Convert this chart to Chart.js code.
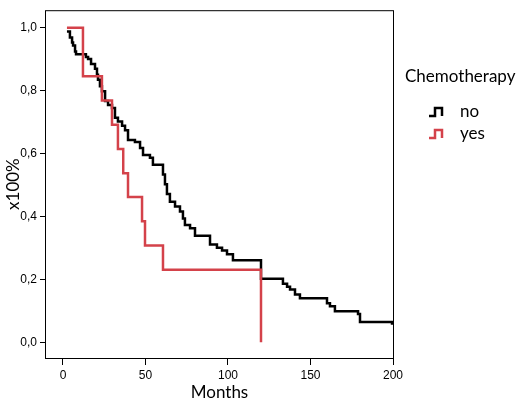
<!DOCTYPE html>
<html>
<head>
<meta charset="utf-8">
<script src="https://cdn.jsdelivr.net/npm/chart.js@4.4.0/dist/chart.umd.min.js"></script>
<style>
  html, body { margin: 0; padding: 0; background: #fff; }
</style>
</head>
<body>
<canvas id="mycanvas" width="520" height="403"></canvas>
<script>
// Kaplan-Meier steps: time of each event (months) and survival after it
var noMonths = [2.4, 4.2, 5.5, 6.1, 7.3, 7.9, 13.9, 15.2, 17.0, 19.4, 20.6, 21.2, 22.4, 23.6, 25.5,
  27.3, 29.7, 31.5, 33.3, 35.8, 37.6, 39.4, 43.6, 46.7, 48.5, 52.7, 54.5, 60.6, 61.8, 63.0,
  64.8, 67.9, 70.9, 72.7, 73.9, 77.0, 80.0, 89.1, 93.3, 96.4, 99.4, 103.0, 120.0, 133.3, 135.8,
  137.6, 140.6, 143.6, 160.0, 161.8, 164.8, 178.8, 180.0, 199.4];
var noSurv = [0.988, 0.969, 0.953, 0.944, 0.925, 0.916, 0.907, 0.901, 0.885, 0.870, 0.851, 0.835, 0.814, 0.798, 0.767,
  0.755, 0.745, 0.714, 0.702, 0.689, 0.674, 0.643, 0.637, 0.618, 0.596, 0.587, 0.565, 0.534, 0.503, 0.472,
  0.447, 0.432, 0.416, 0.394, 0.373, 0.363, 0.339, 0.311, 0.301, 0.292, 0.280, 0.261, 0.202, 0.186, 0.177,
  0.168, 0.152, 0.140, 0.124, 0.115, 0.099, 0.090, 0.065, 0.056];

var yesMonths = [2.4, 12.1, 23.6, 29.7, 33.3, 36.5, 39.4, 47.9, 49.7, 60.6, 120.0];
var yesSurv = [1.0, 0.846, 0.769, 0.692, 0.615, 0.538, 0.462, 0.385, 0.308, 0.231, 0.0];

var xTicks = [0, 50, 100, 150, 200];
var yTicks = [0, 0.2, 0.4, 0.6, 0.8, 1.0];
var legendTitle = 'Chemotherapy';

function toPoints(xs, ys) {
  var pts = [];
  for (var i in xs) {
    pts.push({ x: xs[i], y: ys[i] });
  }
  return pts;
}

var boxAndLegend = {
  id: 'boxAndLegend',
  afterDraw: function(chart) {
    var ctx = chart.ctx;
    var a = chart.chartArea;
    ctx.save();
    ctx.strokeStyle = '#000';
    ctx.lineWidth = 1;
    ctx.strokeRect(a.left - 0.5, a.top + 0.5, a.right - a.left + 1, a.bottom - a.top);

    ctx.fillStyle = '#000';
    ctx.textBaseline = 'middle';
    ctx.textAlign = 'left';
    ctx.font = '17px Lato';
    ctx.fillText(legendTitle, 405, 77);
    chart.data.datasets.forEach(function(ds, i) {
      var y = 112 + i * 22;
      ctx.strokeStyle = ds.borderColor;
      ctx.lineWidth = 2.5;
      ctx.beginPath();
      ctx.moveTo(429, y + 4);
      ctx.lineTo(435, y + 4);
      ctx.lineTo(435, y - 4);
      ctx.lineTo(442, y - 4);
      ctx.lineTo(442, y + 4);
      ctx.stroke();
      ctx.fillText(ds.label, 460, y);
    });
    ctx.restore();
  }
};

var ctx = document.getElementById('mycanvas');

var kmChart = new Chart(ctx, {
  type: 'line',
  data: {
    datasets: [
      {
        label: 'no',
        data: toPoints(noMonths, noSurv),
        borderColor: '#000000',
        borderWidth: 2.5,
        stepped: 'before',
        pointRadius: 0,
        fill: false,
        order: 2
      },
      {
        label: 'yes',
        data: toPoints(yesMonths, yesSurv),
        borderColor: '#d4424a',
        borderWidth: 2.5,
        stepped: 'before',
        pointRadius: 0,
        fill: false,
        order: 1
      }
    ]
  },
  options: {
    responsive: false,
    animation: false,
    layout: { padding: { top: 2, right: 127, left: 0, bottom: 0 } },
    plugins: {
      legend: { display: false },
      tooltip: { enabled: false }
    },
    scales: {
      x: {
        type: 'linear',
        min: -10.3,
        max: 200,
        afterBuildTicks: function(s) { s.ticks = xTicks.map(function(v) { return { value: v }; }); },
        afterFit: function(s) { s.height = 45; },
        grid: { drawOnChartArea: false, tickLength: 7, color: '#000' },
        border: { display: false },
        ticks: { color: '#000', padding: 3, maxRotation: 0, font: { family: 'Liberation Sans Narrow, Liberation Sans', size: 12 } },
        title: { display: true, text: 'Months', color: '#000', padding: { top: 0, bottom: 0 }, font: { family: 'Lato', size: 17 } }
      },
      y: {
        min: -0.0497,
        max: 1.056,
        afterBuildTicks: function(s) { s.ticks = yTicks.map(function(v) { return { value: v }; }); },
        afterFit: function(s) { s.width = 46; },
        grid: { drawOnChartArea: false, tickLength: 6, color: '#000' },
        border: { display: false },
        ticks: {
          color: '#000',
          padding: 3,
          font: { family: 'Liberation Sans Narrow, Liberation Sans', size: 12 },
          callback: function(v) { return v.toFixed(1).replace('.', ','); }
        },
        title: { display: true, text: 'x100%', color: '#000', padding: { top: 3, bottom: 0 }, font: { family: 'Lato', size: 17 } }
      }
    }
  },
  plugins: [boxAndLegend]
});
</script>
</body>
</html>
